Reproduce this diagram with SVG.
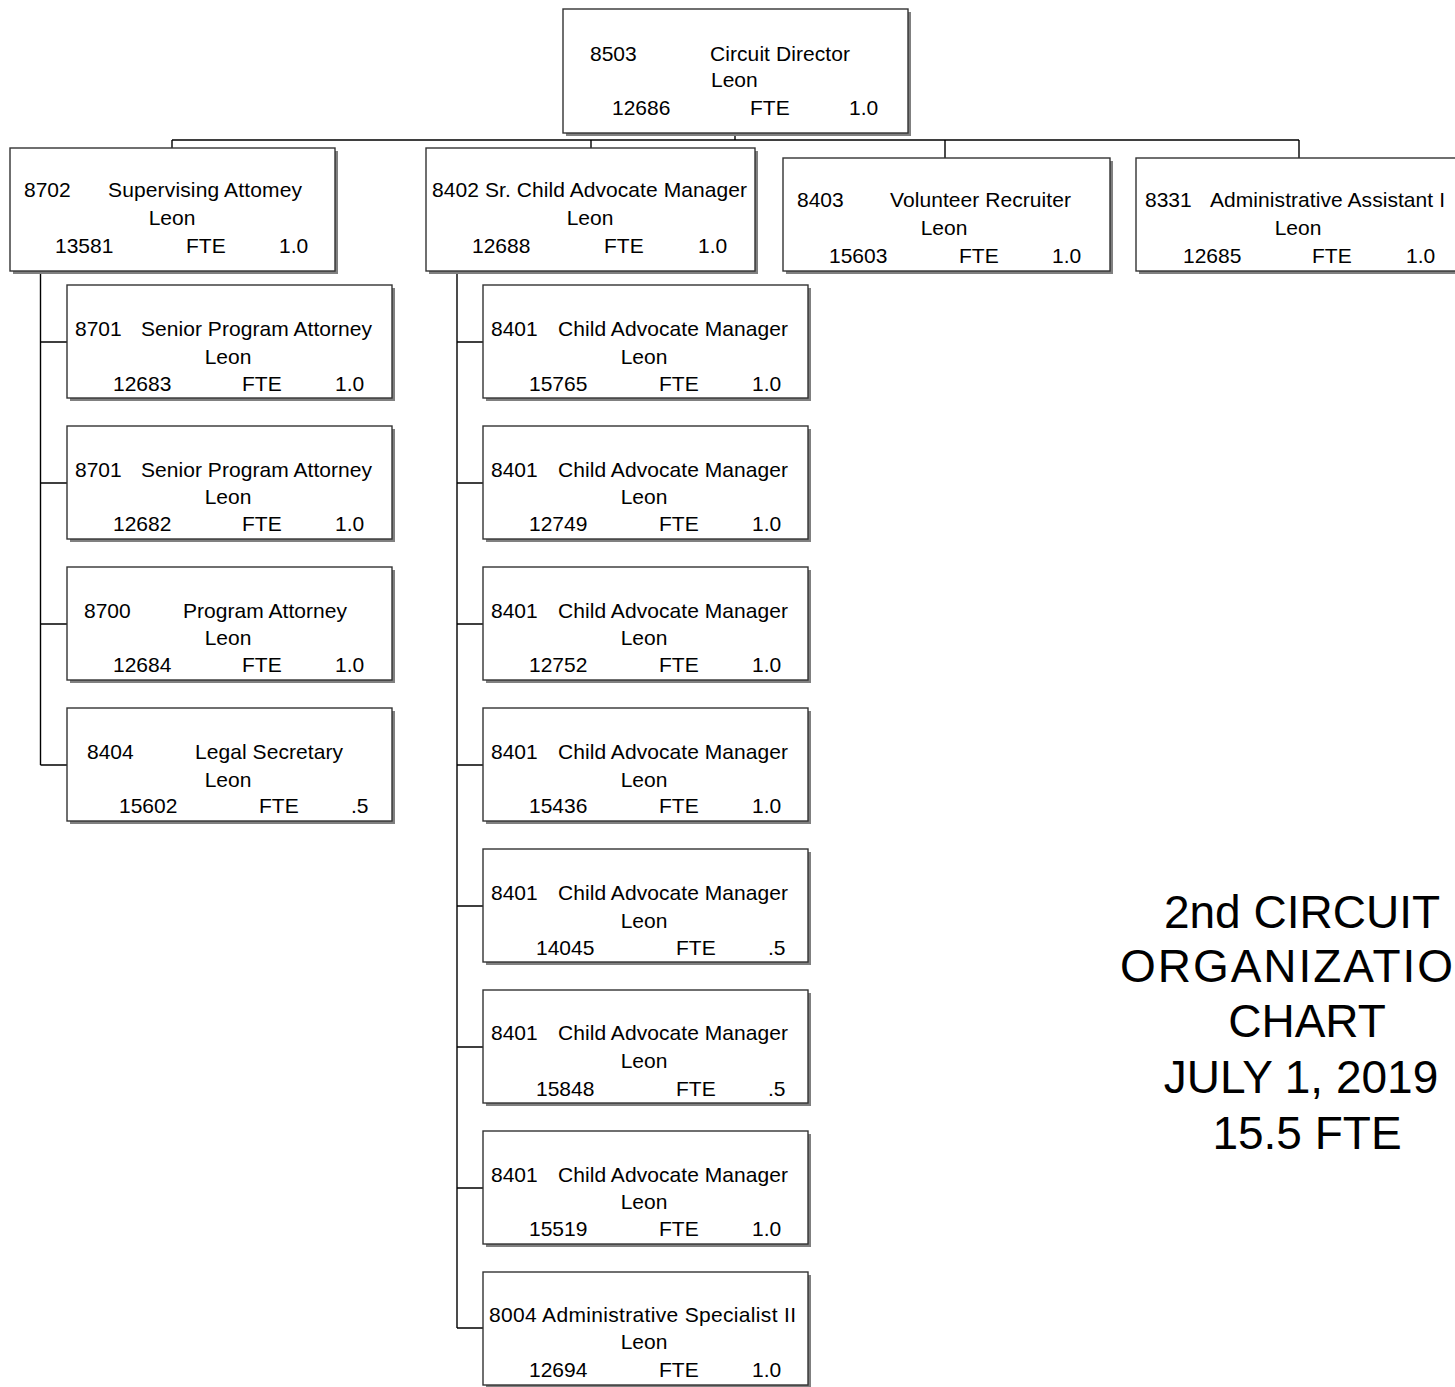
<svg xmlns="http://www.w3.org/2000/svg" width="1455" height="1387" viewBox="0 0 1455 1387">
<style>
text{font-family:"Liberation Sans",Arial,sans-serif;font-size:21px;fill:#000}
.sh{fill:#808080}
.bx{fill:#fff;stroke:#333;stroke-width:1.4}
.m{text-anchor:middle}
.t{font-size:46px;text-anchor:middle}
#connectors path{fill:none;stroke:#000;stroke-width:1.4}
</style>
<rect width="1455" height="1387" fill="#fff"/>
<g id="connectors">
<path d="M735 133V140M172 140H1299M172 140V148M591 140V148M945 140V158M1299 140V158"/>
<path d="M40.5 271V765M40.5 342H67M40.5 483H67M40.5 624H67M40.5 765H67"/>
<path d="M457 271V1328M457 342H483M457 483H483M457 624H483M457 765H483M457 906H483M457 1047H483M457 1188H483M457 1328H483"/>
</g>
<g id="n8503">
<rect class="sh" x="566" y="12" width="345" height="124"/><rect class="bx" x="563" y="9" width="345" height="124"/>
<text x="590" y="61">8503</text><text x="710" y="61" textLength="140">Circuit Director</text>
<text x="711" y="87">Leon</text>
<text x="612" y="115">12686</text><text x="750" y="115">FTE</text><text x="849" y="115">1.0</text>
</g>
<g id="n8702">
<rect class="sh" x="13" y="151" width="325" height="123"/><rect class="bx" x="10" y="148" width="325" height="123"/>
<text x="24" y="197">8702</text><text x="108" y="197" textLength="194">Supervising Attomey</text>
<text class="m" x="172" y="225">Leon</text>
<text x="55" y="253">13581</text><text x="186" y="253">FTE</text><text x="279" y="253">1.0</text>
</g>
<g id="n8402">
<rect class="sh" x="429" y="151" width="329" height="123"/><rect class="bx" x="426" y="148" width="329" height="123"/>
<text x="432" y="197" textLength="315">8402 Sr. Child Advocate Manager</text>
<text class="m" x="590" y="225">Leon</text>
<text x="472" y="253">12688</text><text x="604" y="253">FTE</text><text x="698" y="253">1.0</text>
</g>
<g id="n8403">
<rect class="sh" x="786" y="161" width="327" height="113"/><rect class="bx" x="783" y="158" width="327" height="113"/>
<text x="797" y="207">8403</text><text x="890" y="207" textLength="181">Volunteer Recruiter</text>
<text class="m" x="944" y="235">Leon</text>
<text x="829" y="263">15603</text><text x="959" y="263">FTE</text><text x="1052" y="263">1.0</text>
</g>
<g id="n8331">
<rect class="sh" x="1139" y="161" width="330" height="113"/><rect class="bx" x="1136" y="158" width="330" height="113"/>
<text x="1145" y="207">8331</text><text x="1210" y="207" textLength="235">Administrative Assistant I</text>
<text class="m" x="1298" y="235">Leon</text>
<text x="1183" y="263">12685</text><text x="1312" y="263">FTE</text><text x="1406" y="263">1.0</text>
</g>
<g id="n8701a">
<rect class="sh" x="70" y="288" width="325" height="113"/><rect class="bx" x="67" y="285" width="325" height="113"/>
<text x="75" y="336">8701</text><text x="141" y="336" textLength="231">Senior Program Attorney</text>
<text class="m" x="228" y="364">Leon</text>
<text x="113" y="391">12683</text><text x="242" y="391">FTE</text><text x="335" y="391">1.0</text>
</g>
<g id="n8701b">
<rect class="sh" x="70" y="429" width="325" height="113"/><rect class="bx" x="67" y="426" width="325" height="113"/>
<text x="75" y="477">8701</text><text x="141" y="477" textLength="231">Senior Program Attorney</text>
<text class="m" x="228" y="504">Leon</text>
<text x="113" y="531">12682</text><text x="242" y="531">FTE</text><text x="335" y="531">1.0</text>
</g>
<g id="n8700">
<rect class="sh" x="70" y="570" width="325" height="113"/><rect class="bx" x="67" y="567" width="325" height="113"/>
<text x="84" y="618">8700</text><text x="183" y="618" textLength="164">Program Attorney</text>
<text class="m" x="228" y="645">Leon</text>
<text x="113" y="672">12684</text><text x="242" y="672">FTE</text><text x="335" y="672">1.0</text>
</g>
<g id="n8404">
<rect class="sh" x="70" y="711" width="325" height="113"/><rect class="bx" x="67" y="708" width="325" height="113"/>
<text x="87" y="759">8404</text><text x="195" y="759" textLength="148">Legal Secretary</text>
<text class="m" x="228" y="787">Leon</text>
<text x="119" y="813">15602</text><text x="259" y="813">FTE</text><text x="351" y="813">.5</text>
</g>
<g id="n8401a">
<rect class="sh" x="486" y="288" width="325" height="113"/><rect class="bx" x="483" y="285" width="325" height="113"/>
<text x="491" y="336">8401</text><text x="558" y="336" textLength="230">Child Advocate Manager</text>
<text class="m" x="644" y="364">Leon</text>
<text x="529" y="391">15765</text><text x="659" y="391">FTE</text><text x="752" y="391">1.0</text>
</g>
<g id="n8401b">
<rect class="sh" x="486" y="429" width="325" height="113"/><rect class="bx" x="483" y="426" width="325" height="113"/>
<text x="491" y="477">8401</text><text x="558" y="477" textLength="230">Child Advocate Manager</text>
<text class="m" x="644" y="504">Leon</text>
<text x="529" y="531">12749</text><text x="659" y="531">FTE</text><text x="752" y="531">1.0</text>
</g>
<g id="n8401c">
<rect class="sh" x="486" y="570" width="325" height="113"/><rect class="bx" x="483" y="567" width="325" height="113"/>
<text x="491" y="618">8401</text><text x="558" y="618" textLength="230">Child Advocate Manager</text>
<text class="m" x="644" y="645">Leon</text>
<text x="529" y="672">12752</text><text x="659" y="672">FTE</text><text x="752" y="672">1.0</text>
</g>
<g id="n8401d">
<rect class="sh" x="486" y="711" width="325" height="113"/><rect class="bx" x="483" y="708" width="325" height="113"/>
<text x="491" y="759">8401</text><text x="558" y="759" textLength="230">Child Advocate Manager</text>
<text class="m" x="644" y="787">Leon</text>
<text x="529" y="813">15436</text><text x="659" y="813">FTE</text><text x="752" y="813">1.0</text>
</g>
<g id="n8401e">
<rect class="sh" x="486" y="852" width="325" height="113"/><rect class="bx" x="483" y="849" width="325" height="113"/>
<text x="491" y="900">8401</text><text x="558" y="900" textLength="230">Child Advocate Manager</text>
<text class="m" x="644" y="928">Leon</text>
<text x="536" y="955">14045</text><text x="676" y="955">FTE</text><text x="768" y="955">.5</text>
</g>
<g id="n8401f">
<rect class="sh" x="486" y="993" width="325" height="113"/><rect class="bx" x="483" y="990" width="325" height="113"/>
<text x="491" y="1040">8401</text><text x="558" y="1040" textLength="230">Child Advocate Manager</text>
<text class="m" x="644" y="1068">Leon</text>
<text x="536" y="1096">15848</text><text x="676" y="1096">FTE</text><text x="768" y="1096">.5</text>
</g>
<g id="n8401g">
<rect class="sh" x="486" y="1134" width="325" height="113"/><rect class="bx" x="483" y="1131" width="325" height="113"/>
<text x="491" y="1182">8401</text><text x="558" y="1182" textLength="230">Child Advocate Manager</text>
<text class="m" x="644" y="1209">Leon</text>
<text x="529" y="1236">15519</text><text x="659" y="1236">FTE</text><text x="752" y="1236">1.0</text>
</g>
<g id="n8004">
<rect class="sh" x="486" y="1275" width="325" height="113"/><rect class="bx" x="483" y="1272" width="325" height="113"/>
<text x="489" y="1322" textLength="307">8004 Administrative Specialist II</text>
<text class="m" x="644" y="1349">Leon</text>
<text x="529" y="1377">12694</text><text x="659" y="1377">FTE</text><text x="752" y="1377">1.0</text>
</g>
<g id="title">
<text class="t" x="1302" y="928">2nd CIRCUIT</text>
<text class="t" x="1120" y="982" textLength="333" style="text-anchor:start">ORGANIZATIO</text>
<text class="t" x="1307" y="1037">CHART</text>
<text class="t" x="1301" y="1093">JULY 1, 2019</text>
<text class="t" x="1307" y="1149">15.5 FTE</text>
</g>
</svg>
